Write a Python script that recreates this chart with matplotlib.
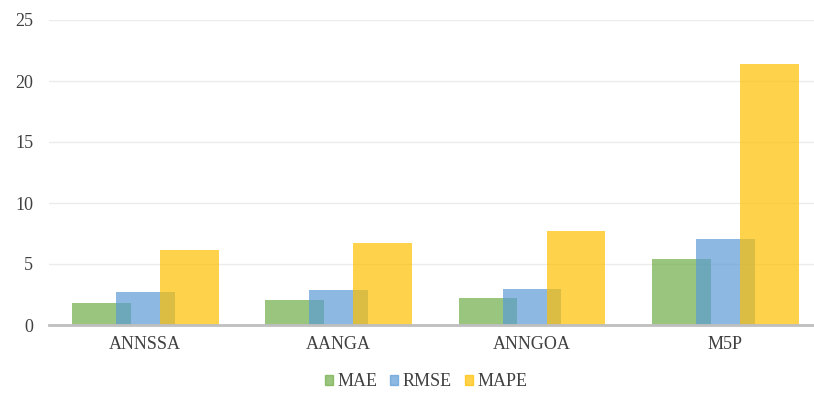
import matplotlib.pyplot as plt
import numpy as np
from matplotlib.patches import Patch

# error metrics per model
models = ['ANNSSA', 'AANGA', 'ANNGOA', 'M5P']
mae = [1.83, 2.02, 2.19, 5.44]
rmse = [2.68, 2.84, 2.98, 7.05]
mape = [6.17, 6.72, 7.73, 21.42]

series = [('MAE', mae, '#70AD47'), ('RMSE', rmse, '#5B9BD5'), ('MAPE', mape, '#FFC000')]

plt.rcParams['font.family'] = ['Liberation Serif', 'DejaVu Serif']

fig = plt.figure(figsize=(8.14, 3.94), dpi=100)
ax = fig.add_axes([48.6/814, 69/394, 773.5/814, 305/394])

x = np.arange(len(models))
w = 0.3035
step = 0.2275
for k, (name, vals, col) in enumerate(series):
    ax.bar(x + (k-1)*step, vals, width=w, color=col, alpha=0.7, label=name, zorder=2)

ax.set_xlim(-0.5, 3.5)
ax.set_ylim(0, 25)
ax.set_yticks([0, 5, 10, 15, 20, 25])
ax.set_xticks(x)
ax.set_xticklabels(models)
ax.yaxis.grid(True, color='#EBEBEB', linewidth=1, zorder=0)
ax.set_axisbelow(True)
for s in ['top', 'right', 'left']:
    ax.spines[s].set_visible(False)
ax.spines['bottom'].set_color('#BFBFBF')
ax.spines['bottom'].set_linewidth(2)
ax.spines['bottom'].set_zorder(3)
ax.tick_params(axis='both', length=0, labelsize=13, colors='#404040')
ax.tick_params(axis='y', pad=11)
ax.tick_params(axis='x', pad=8)

handles = [Patch(color=c, alpha=0.7) for _, _, c in series]
fig.legend(handles, [n for n, _, _ in series], loc='center', bbox_to_anchor=(426/814, 12/394),
           ncol=3, frameon=False, fontsize=13, handlelength=0.45, handleheight=0.45,
           handletextpad=0.25, columnspacing=0.7, labelcolor='#404040')

fig.savefig('out.png', dpi=100)
